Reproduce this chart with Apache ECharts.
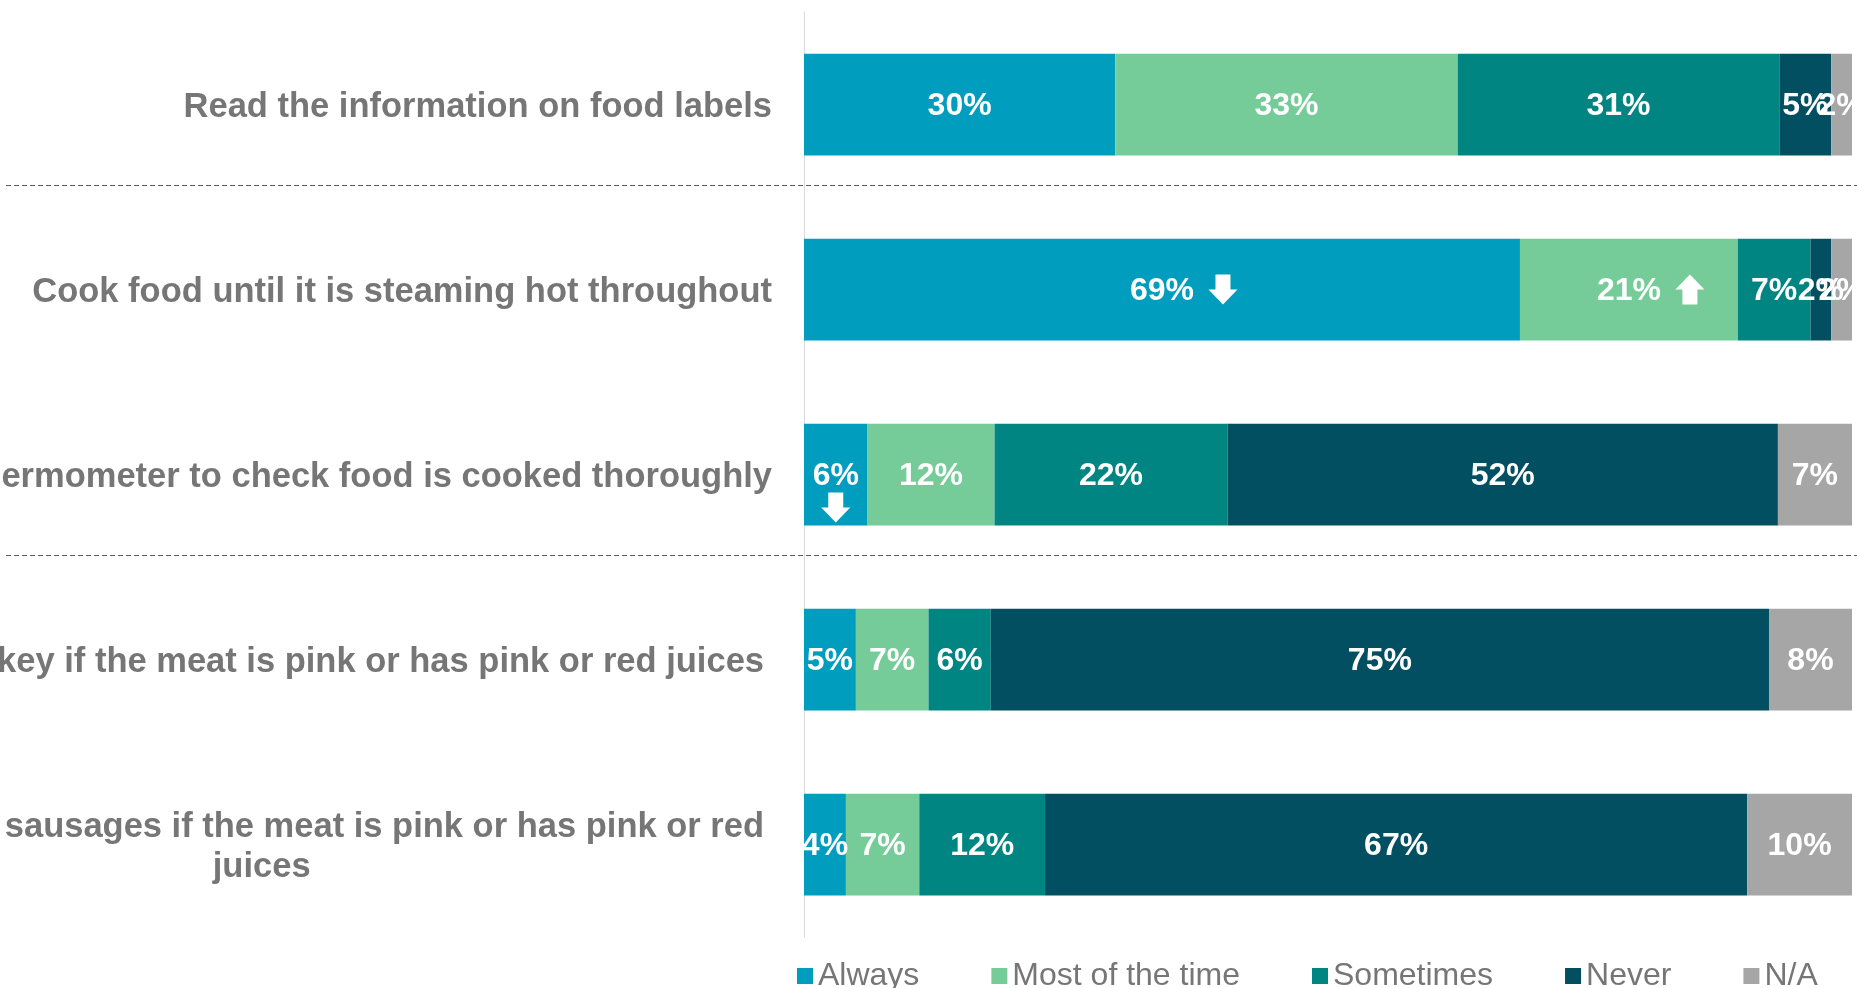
<!DOCTYPE html>
<html>
<head>
<meta charset="utf-8">
<script src="https://cdn.jsdelivr.net/npm/echarts@6/dist/echarts.min.js"></script>
<style>
  html, body { margin: 0; padding: 0; background: #ffffff; }
  #chart { width: 1857px; height: 988px; }
</style>
</head>
<body>
<div id="chart"></div>
<script>
// Food safety behaviours: share of respondents by frequency
const categories = [
  'Read the information on food labels',
  'Cook food until it is steaming hot throughout',
  'Use a food thermometer to check food is cooked thoroughly',
  'Eat chicken or turkey if the meat is pink or has pink or red juices',
  'Eat burgers or sausages if the meat is pink or has pink or red\njuices'
];
const seriesNames = ['Always', 'Most of the time', 'Sometimes', 'Never', 'N/A'];
const always        = [30, 69, 6, 5, 4];
const mostOfTheTime = [33, 21, 12, 7, 7];
const sometimes     = [31, 7, 22, 6, 12];
const never         = [5, 2, 52, 75, 67];
const notApplicable = [2, 2, 7, 8, 10];
// Significant changes: [row, answer index, direction]
const changeMarkers = [
  [1, 0, 'down'],
  [1, 1, 'up'],
  [2, 0, 'down']
];

const values = [always, mostOfTheTime, sometimes, never, notApplicable];
const colors = ['#009DBE', '#75CC99', '#008582', '#024F61', '#A6A6A6'];
const FONT = "'Liberation Sans', Arial, Helvetica, sans-serif";
const LABEL_GREY = '#767676';

// Each row is drawn as a 100% stacked bar
const rowTotals = categories.map((_, r) => values.reduce((s, arr) => s + arr[r], 0));
const share = (s, r) => values[s][r] / rowTotals[r] * 100;

const ARROW_DOWN = 'path://M7,0 L22,0 L22,15 L29,15 L14.5,30 L0,15 L7,15 Z';
const ARROW_UP = 'path://M7,30 L22,30 L22,15 L29,15 L14.5,0 L0,15 L7,15 Z';

const barSeries = seriesNames.map((name, s) => ({
  name: name,
  type: 'bar',
  stack: 'total',
  barWidth: '55%',
  itemStyle: { color: colors[s] },
  label: {
    show: true,
    position: 'inside',
    offset: [0, 2],
    color: '#ffffff',
    fontFamily: FONT,
    fontWeight: 'bold',
    fontSize: 32,
    formatter: p => values[s][p.dataIndex] + '%'
  },
  emphasis: { disabled: true },
  data: categories.map((_, r) => share(s, r))
}));

const markerData = changeMarkers.map(([r, s, dir]) => {
  let start = 0;
  for (let k = 0; k < s; k++) start += share(k, r);
  const w = share(s, r);
  const narrow = w < 10;
  return {
    value: [start + w / 2, r],
    symbol: dir === 'up' ? ARROW_UP : ARROW_DOWN,
    symbolOffset: narrow ? [0, 33] : [61, 0]
  };
});

const chart = echarts.init(document.getElementById('chart'), null, { renderer: 'canvas' });

chart.setOption({
  animation: false,
  backgroundColor: '#ffffff',
  grid: { left: 804, right: 5, top: 12, bottom: 51, containLabel: false, outerBoundsMode: 'none' },
  xAxis: {
    type: 'value',
    min: 0,
    max: 100,
    show: false
  },
  yAxis: {
    type: 'category',
    inverse: true,
    data: categories,
    axisLine: { show: true, lineStyle: { color: '#D9D9D9', width: 1 } },
    axisTick: { show: false },
    splitLine: { show: false },
    axisLabel: {
      margin: 32,
      padding: [5, 0, 0, 0],
      color: LABEL_GREY,
      fontFamily: FONT,
      fontWeight: 'bold',
      fontSize: 34.5,
      formatter: (val, idx) => {
        const lines = val.split('\n');
        if (idx < 3) return val;
        if (lines.length === 1) return '{p|' + val + '}';
        return lines.map(l => '{c|' + l + '}').join('\n');
      },
      rich: {
        p: { color: LABEL_GREY, fontFamily: FONT, fontWeight: 'bold', fontSize: 34.5, padding: [0, 8, 0, 0] },
        c: { color: LABEL_GREY, fontFamily: FONT, fontWeight: 'bold', fontSize: 34.5, lineHeight: 40, align: 'center', padding: [0, 8, 0, 0] }
      }
    }
  },
  legend: {
    data: seriesNames,
    left: 792,
    top: 955,
    icon: 'rect',
    itemWidth: 16,
    itemHeight: 16,
    itemGap: 72,
    selectedMode: false,
    textStyle: {
      color: LABEL_GREY,
      fontFamily: FONT,
      fontSize: 32
    }
  },
  series: barSeries.concat([{
    name: 'change',
    type: 'scatter',
    z: 5,
    silent: true,
    symbolSize: [29, 30],
    itemStyle: { color: '#ffffff', opacity: 1 },
    emphasis: { disabled: true },
    data: markerData
  }])
});

// Dashed separators between behaviour groups
const centre = i => chart.convertToPixel({ yAxisIndex: 0 }, categories[i]);
const separatorAfter = [0, 2];
const graphics = separatorAfter.map(i => {
  const y = Math.round((centre(i) + centre(i + 1)) / 2 - 12) + 0.5;
  return {
    type: 'line',
    silent: true,
    z: 10,
    shape: { x1: 6, y1: y, x2: 1857, y2: y },
    style: { stroke: '#5B5470', lineWidth: 1, lineDash: [5, 3] }
  };
});
chart.setOption({ graphic: graphics });
</script>
</body>
</html>
